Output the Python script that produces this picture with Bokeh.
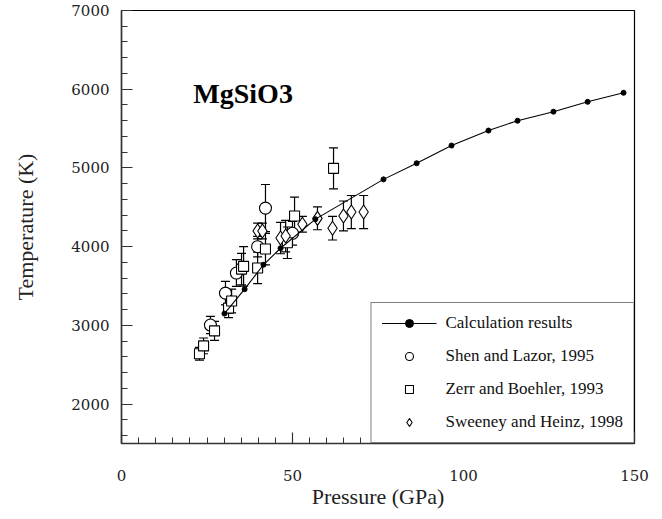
from bokeh.plotting import figure
from bokeh.models import (ColumnDataSource, Whisker, TeeHead, Label, Legend, LegendItem,
                          SingleIntervalTicker, Range1d)
from bokeh.embed import file_html
from bokeh.resources import INLINE

# ---- data ----
calc_p = [30.1, 36.0, 41.5, 46.5, 56.7, 76.6, 86.3, 96.5, 107.3, 115.8, 126.3, 136.3, 146.8]
calc_t = [3150, 3460, 3770, 3980, 4350, 4855, 5060, 5285, 5475, 5600, 5715, 5840, 5955]

shen_p = [26.0, 30.4, 33.6, 39.8, 42.1, 50.0]
shen_t = [3005, 3410, 3665, 4000, 4490, 4170]
shen_err = [110, 150, 170, 130, 300, 150]

zerr_p = [22.8, 24.0, 27.2, 31.3, 32.2, 35.1, 35.7, 39.8, 42.1, 48.5, 50.6, 62.0]
zerr_t = [2640, 2740, 2930, 3220, 3310, 3715, 3750, 3730, 3970, 4050, 4390, 4995]
zerr_err = [80, 100, 120, 120, 150, 200, 250, 200, 200, 200, 240, 260]

sween_p = [39.8, 41.2, 46.5, 48.0, 52.9, 57.3, 61.7, 64.9, 67.2, 70.8]
sween_t = [4200, 4200, 4110, 4135, 4285, 4360, 4235, 4390, 4440, 4440]
sween_err = [100, 100, 200, 200, 100, 145, 150, 190, 210, 210]

labels = ["Calculation results", "Shen and Lazor, 1995",
          "Zerr and Boehler, 1993", "Sweeney and Heinz, 1998"]
title_text = "MgSiO3"

# ---- figure ----
p = figure(width=654, height=511, output_backend="svg", toolbar_location=None,
           x_range=Range1d(0, 150), y_range=Range1d(1500, 7000),
           min_border_left=121, min_border_right=20, min_border_top=10, min_border_bottom=68)
p.grid.visible = False
p.outline_line_color = "black"
p.outline_line_width = 1.2
p.background_fill_color = "white"
p.border_fill_color = "white"

p.xaxis.ticker = SingleIntervalTicker(interval=50, num_minor_ticks=10)
p.yaxis.ticker = SingleIntervalTicker(interval=1000, num_minor_ticks=5)
for ax in (p.xaxis[0], p.yaxis[0]):
    ax.axis_line_color = "#333333"
    ax.axis_line_width = 1.5
    ax.major_tick_in = 11
    ax.major_tick_out = 0
    ax.minor_tick_in = 6
    ax.minor_tick_out = 0
    ax.major_tick_line_color = "#333333"
    ax.minor_tick_line_color = "#333333"
    ax.major_tick_line_width = 1.2
    ax.minor_tick_line_width = 1.0
    ax.major_label_text_font = "DejaVu Serif"
    ax.major_label_text_font_size = "15px"
    ax.major_label_text_color = "#222222"
    ax.axis_label_text_font = "Liberation Serif"
    ax.axis_label_text_font_size = "22px"
    ax.axis_label_text_font_style = "normal"
    ax.axis_label_text_color = "#222222"

p.xaxis.axis_label = "Pressure (GPa)"
p.yaxis.axis_label = "Temperature (K)"
p.xaxis.major_label_standoff = 26
p.xaxis.axis_label_standoff = 0
p.yaxis.major_label_standoff = 12
p.yaxis.axis_label_standoff = 30

def add_series(px, pt, perr, marker, size):
    src = ColumnDataSource(dict(p=px, t=pt,
                                lo=[a - b for a, b in zip(pt, perr)],
                                hi=[a + b for a, b in zip(pt, perr)]))
    w = Whisker(source=src, base="p", lower="lo", upper="hi", dimension="height",
                line_color="black", line_width=1.2,
                upper_head=TeeHead(size=9, line_color="black", line_width=1.2),
                lower_head=TeeHead(size=9, line_color="black", line_width=1.2))
    p.add_layout(w)
    r = p.scatter("p", "t", source=src, marker=marker, size=size,
                  line_color="black", line_width=1.1, fill_color="white")
    return r

r_shen = add_series(shen_p, shen_t, shen_err, "circle", 12)
r_zerr = add_series(zerr_p, zerr_t, zerr_err, "square", 10)
r_swee = add_series(sween_p, sween_t, sween_err, "diamond", 14)

calc_src = ColumnDataSource(dict(p=calc_p, t=calc_t))
r_line = p.line("p", "t", source=calc_src, line_color="black", line_width=1.1)
r_dots = p.scatter("p", "t", source=calc_src, marker="circle", size=5,
                   line_color="black", fill_color="black")

legend = Legend(items=[
    LegendItem(label=labels[0], renderers=[r_line, r_dots]),
    LegendItem(label=labels[1], renderers=[r_shen]),
    LegendItem(label=labels[2], renderers=[r_zerr]),
    LegendItem(label=labels[3], renderers=[r_swee]),
], location="bottom_right", margin=0, padding=10, spacing=13,
   glyph_width=55, glyph_height=20, label_standoff=9, label_height=20,
   border_line_color="black", border_line_width=1.2,
   background_fill_color="white", background_fill_alpha=1.0,
   label_text_font="Liberation Serif", label_text_font_size="17px",
   label_text_color="#111111")
p.add_layout(legend, "center")

title = Label(x=21.0, y=5950, text=title_text, text_font="Liberation Serif",
              text_font_size="28px", text_font_style="bold", text_color="black",
              text_baseline="alphabetic", text_align="left")
p.add_layout(title)

open("out.html", "w").write(file_html(p, INLINE))
